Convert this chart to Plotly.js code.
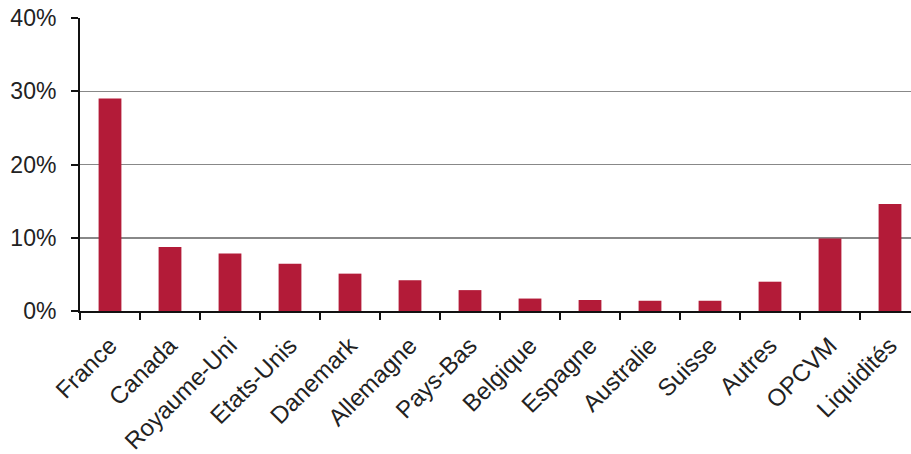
<!DOCTYPE html>
<html>
<head>
<meta charset="utf-8">
<script src="https://cdn.plot.ly/plotly-3.0.1.min.js"></script>
<style>html,body{margin:0;padding:0;background:#fff;}#chart{width:911px;height:454px;}</style>
</head>
<body>
<div id="chart"></div>
<script>
const categories = ["France","Canada","Royaume-Uni","Etats-Unis","Danemark","Allemagne","Pays-Bas","Belgique","Espagne","Australie","Suisse","Autres","OPCVM","Liquidités"];
const values = [29.0, 8.75, 7.85, 6.45, 5.1, 4.2, 2.85, 1.7, 1.5, 1.4, 1.4, 4.0, 9.9, 14.6];
const yTicks = [0, 10, 20, 30, 40];
const yTickLabels = ["0%", "10%", "20%", "30%", "40%"];

Plotly.newPlot('chart', [{
  type: 'bar',
  x: categories,
  y: values,
  marker: {color: '#B31B38'},
  hoverinfo: 'x+y'
}], {
  width: 911, height: 454,
  margin: {l: 80, r: 0, t: 18, b: 143, pad: 0},
  paper_bgcolor: '#fff', plot_bgcolor: '#fff',
  bargap: 0.62,
  showlegend: false,
  font: {family: 'Liberation Sans, Arial, sans-serif', color: '#222'},
  xaxis: {
    type: 'category',
    range: [-0.5, 13.35],
    automargin: false,
    showline: true, linecolor: '#111', linewidth: 2,
    ticks: 'outside', tickson: 'boundaries', ticklen: 7, tickwidth: 2, tickcolor: '#111',
    tickangle: -45,
    ticklabelstandoff: 9,
    tickfont: {size: 24, color: '#222'},
    showgrid: false
  },
  yaxis: {
    range: [0, 40],
    automargin: false,
    tickvals: yTicks, ticktext: yTickLabels,
    showline: true, linecolor: '#111', linewidth: 2,
    ticks: 'outside', ticklen: 7, tickwidth: 2, tickcolor: '#111',
    ticklabelstandoff: 10,
    tickfont: {size: 23, color: '#222'},
    showgrid: true, gridcolor: '#888', gridwidth: 1.5,
    zeroline: false
  }
}, {staticPlot: true});
</script>
</body>
</html>
